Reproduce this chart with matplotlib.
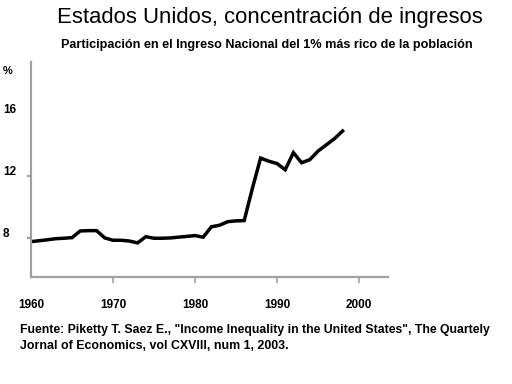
import matplotlib
matplotlib.use("Agg")
import matplotlib.pyplot as plt
from matplotlib.transforms import blended_transform_factory

years = [1960, 1961, 1962, 1963, 1964, 1965, 1966, 1967, 1968, 1969,
         1970, 1971, 1972, 1973, 1974, 1975, 1976, 1977, 1978, 1979,
         1980, 1981, 1982, 1983, 1984, 1985, 1986, 1987, 1988, 1989,
         1990, 1991, 1992, 1993, 1994, 1995, 1996, 1997, 1998]
share = [7.76, 7.82, 7.88, 7.95, 7.98, 8.02, 8.45, 8.47, 8.47, 8.0,
         7.85, 7.85, 7.8, 7.68, 8.08, 7.98, 7.98, 8.0, 8.05, 8.1,
         8.15, 8.05, 8.72, 8.82, 9.05, 9.1, 9.12, 11.2, 13.15, 12.95,
         12.8, 12.4, 13.5, 12.85, 13.05, 13.6, 14.0, 14.4, 14.9]

xticks = [1970, 1980, 1990, 2000]
xlabels = ["1960", "1970", "1980", "1990", "2000"]
ylabels = [8, 12, 16]

bold = ["Liberation Sans", "DejaVu Sans"]

fig = plt.figure(figsize=(5.12, 3.84), dpi=100)
ax = fig.add_axes([31 / 512, 1 - 277 / 384, (388 - 31) / 512, (277 - 62) / 384])

ax.plot(years, share, color="black", linewidth=2.5, solid_joinstyle="miter")

ax.set_xlim(1960, 1960 + (388 - 31) / 8.2)
ax.set_ylim(5.48, 19.35)

for s in ["top", "right"]:
    ax.spines[s].set_visible(False)
for s in ["left", "bottom"]:
    ax.spines[s].set_color("#a0a0a0")
    ax.spines[s].set_linewidth(1.6)

ax.set_xticks(xticks)
ax.set_xticklabels([])
ax.tick_params(axis="x", length=4, width=1.2, color="#a0a0a0", direction="out")
ax.set_yticks([8, 12])
ax.set_yticklabels([])
ax.tick_params(axis="y", length=3, width=1.5, color="#a0a0a0", direction="out")

for i, lab in enumerate(xlabels):
    ax.text(1960 + 10 * i, -0.13, lab, transform=ax.get_xaxis_transform(),
            ha="center", va="center", fontsize=8.5, fontweight="bold", family=bold)

# y labels sit left-aligned at the figure edge in the original
ytrans = blended_transform_factory(fig.transFigure, ax.transData)
for v in ylabels:
    ax.text(3 / 512, v + 0.25, str(v), transform=ytrans,
            ha="left", va="center", fontsize=8.5, fontweight="bold", family=bold)
ax.text(3 / 512, 18.8, "%", transform=ytrans,
        ha="left", va="center", fontsize=8, fontweight="bold", family=bold)

fig.text(270 / 512, 1 - 18 / 384, "Estados Unidos, concentración de ingresos",
         ha="center", va="center", fontsize=15.9, family=["Liberation Sans", "DejaVu Sans"])

sub = fig.text(267 / 512, 1 - 45 / 384,
               "Participación en el Ingreso Nacional del 1% más rico de la población",
               ha="center", va="center", fontsize=8.5, fontweight="bold", family=bold)
f1 = fig.text(20 / 512, 1 - 330 / 384,
              "Fuente: Piketty T. Saez E., \"Income Inequality in the United States\", The Quartely",
              ha="left", va="center", fontsize=8.5, fontweight="bold", family=bold)
f2 = fig.text(20 / 512, 1 - 346 / 384,
              "Jornal of Economics, vol CXVIII, num 1, 2003.",
              ha="left", va="center", fontsize=8.5, fontweight="bold", family=bold)

# the original uses a narrow face: shrink to the widths seen in the picture
renderer = fig.canvas.get_renderer()
for t, w in [(sub, 410), (f1, 467), (f2, 268)]:
    cur = t.get_window_extent(renderer).width
    t.set_fontsize(t.get_fontsize() * w / cur)

fig.savefig("out.png", dpi=100)
